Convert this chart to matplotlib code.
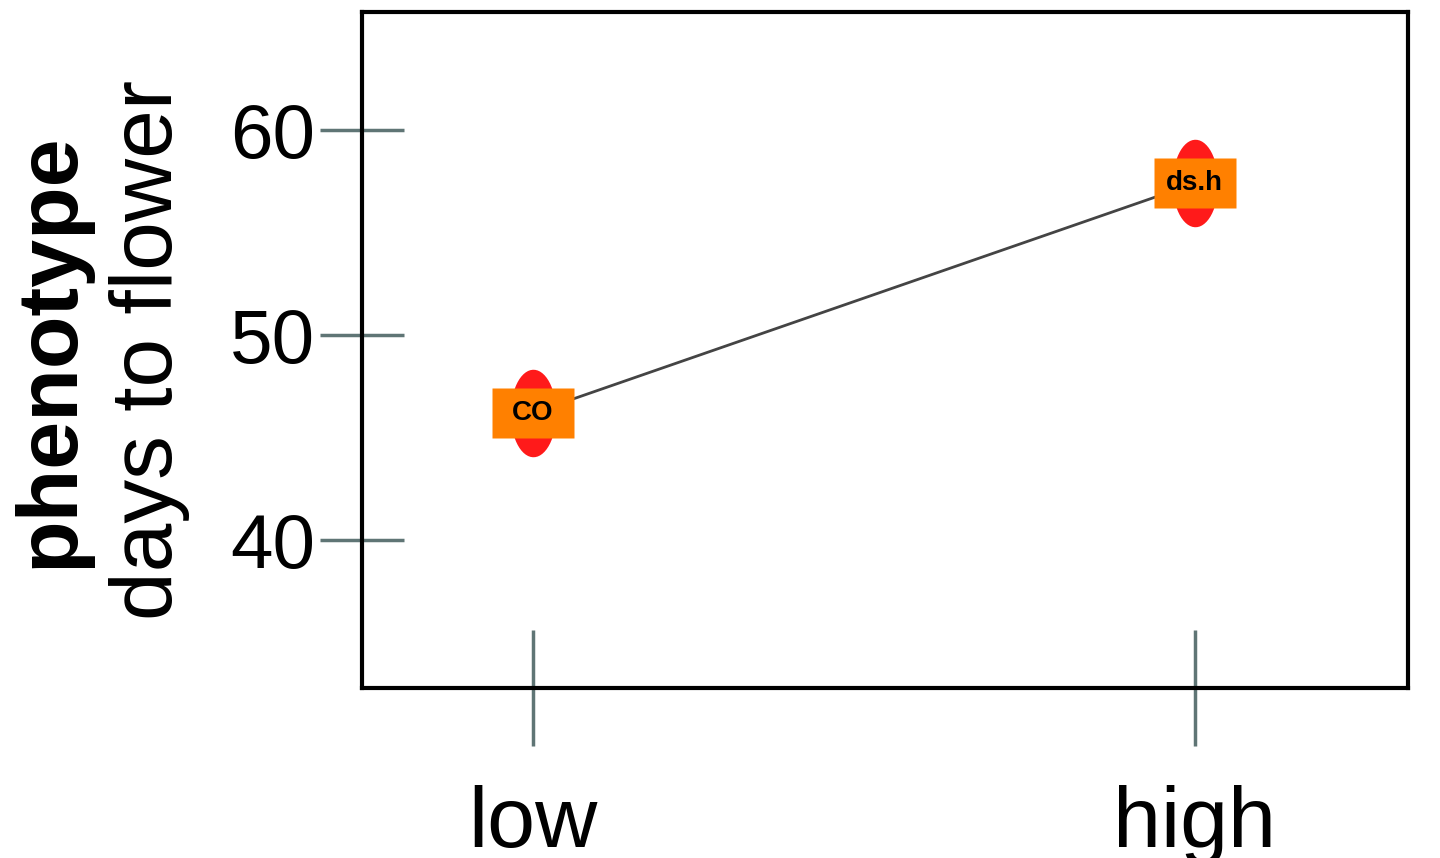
import numpy as np
import matplotlib
matplotlib.use('Agg')
import matplotlib.pyplot as plt

# data
groups = ['low', 'high']
group_pos = [1, 2]
days_to_flower = [46.2, 57.4]
point_labels = ['CO', 'ds.h']
y_ticks = [40, 50, 60]

plt.rcParams['font.family'] = ['Liberation Sans', 'DejaVu Sans']

fig = plt.figure(figsize=(14.4, 8.58), dpi=100)
ax = fig.add_axes([362 / 1440, 1 - 688 / 858, (1408 - 362) / 1440, (688 - 12) / 858])

tick_col = '#5f7575'

# oval and box markers
t = np.linspace(0, 2 * np.pi, 60)
oval = np.column_stack([0.26 * np.cos(t), 0.5 * np.sin(t)])
box = [(-0.5, -0.3), (0.5, -0.3), (0.5, 0.3), (-0.5, 0.3), (-0.5, -0.3)]

ax.plot(group_pos, days_to_flower, color='#444444', lw=2.0, zorder=1)
ax.plot(group_pos, days_to_flower, ls='none', marker=oval, markersize=63,
        markerfacecolor='#ff1a1a', markeredgecolor='none', zorder=2)
ax.plot(group_pos, days_to_flower, ls='none', marker=box, markersize=59,
        markerfacecolor='#ff8000', markeredgecolor='none', zorder=3)
for x, y, lab in zip(group_pos, days_to_flower, point_labels):
    ax.text(x, y, lab, ha='center', va='center', fontsize=20, fontweight='bold',
            color='black', zorder=4)

ax.set_xlim(0.742, 2.322)
ax.set_ylim(32.78, 65.76)
ax.set_xticks(group_pos)
ax.set_xticklabels(groups)
ax.set_yticks(y_ticks)

for s in ax.spines.values():
    s.set_linewidth(3)
    s.set_color('black')

ax.tick_params(axis='y', direction='inout', length=60, width=2.5, color=tick_col,
               labelsize=55, pad=4)
ax.tick_params(axis='x', direction='inout', length=84, width=2.5, color=tick_col,
               labelsize=62, pad=28)

fig.text(50 / 1440, 1 - 350 / 858, 'phenotype', rotation=90, ha='center', va='center',
         fontsize=62, fontweight='bold')
fig.text(150 / 1440, 1 - 350 / 858, 'days to flower', rotation=90, ha='center',
         va='center', fontsize=63)

fig.savefig('out.png', dpi=100)
